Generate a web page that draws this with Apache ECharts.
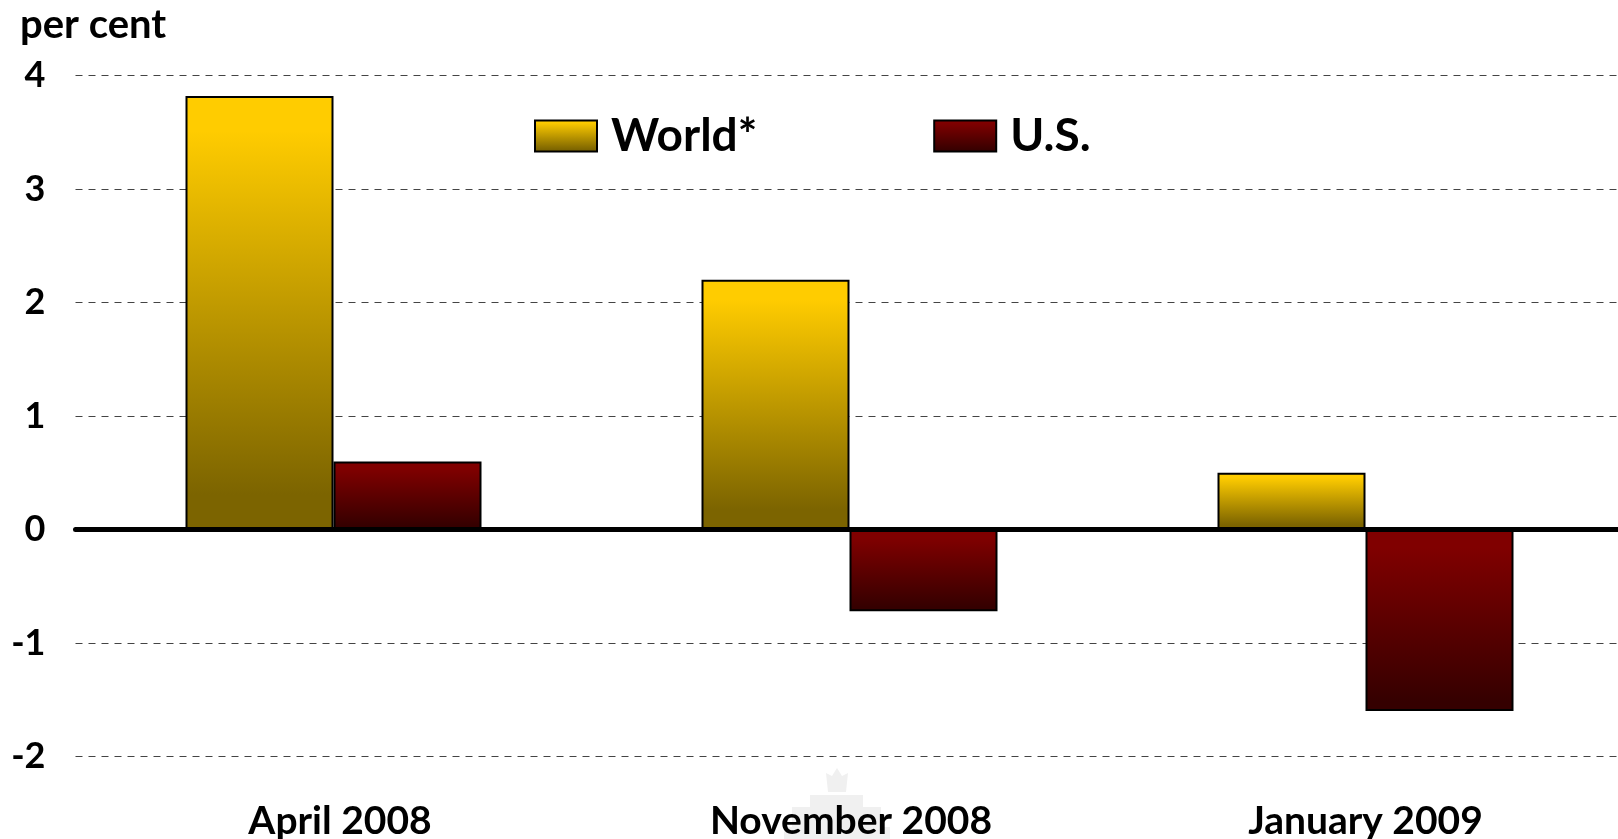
<!DOCTYPE html>
<html><head><meta charset="utf-8">
<style>html,body{margin:0;padding:0;background:#fff}#c{width:1618px;height:839px}</style>
<script src="https://cdn.jsdelivr.net/npm/echarts@6/dist/echarts.min.js"></script>
</head><body><div id="c"></div>
<script>
const categories = ['April 2008', 'November 2008', 'January 2009'];
const worldValues = [3.82, 2.2, 0.5];
const usValues = [0.6, -0.72, -1.6];
const yTicks = { min: -2, max: 4, interval: 1 };
const FONT = 'Lato, sans-serif';
const labelNudge = [13, 3, 0];
const grad = (stops) => new echarts.graphic.LinearGradient(0, 0, 0, 1, stops.map(([offset, color]) => ({offset, color})));
const chart = echarts.init(document.getElementById('c'), null, {renderer: 'canvas'});
const barBase = {type: 'bar', barWidth: 148, barGap: '0%', animation: false};
const hidden = {show: false};
const crest = '#f0f0f0';
chart.setOption({
  animation: false,
  backgroundColor: '#fff',
  grid: {left: 75.5, width: 1548, top: 75.5, bottom: 82.5, outerBoundsMode: 'none'},
  legend: {
    left: 529, top: 108, itemWidth: 62, itemHeight: 31, itemGap: 176, icon: 'rect',
    itemStyle: {borderWidth: 2, borderColor: '#000'},
    textStyle: {fontFamily: FONT, fontWeight: 'bold', fontSize: 46, color: '#000', padding: [4, 0, 0, 9]},
    data: ['World*', 'U.S.']
  },
  graphic: [
    {type: 'text', left: 20, top: 5, style: {text: 'per cent', fontFamily: FONT, fontWeight: 'bold', fontSize: 40, fill: '#000'}},
    {type: 'group', silent: true, z: 0, children: [
      {type: 'polygon', shape: {points: [[826,773],[832,776],[837,768],[842,776],[848,773],[846,792],[828,792]]}, style: {fill: crest}},
      {type: 'rect', shape: {x: 810, y: 795, width: 53, height: 12}, style: {fill: crest}},
      {type: 'rect', shape: {x: 792, y: 807, width: 89, height: 20}, style: {fill: crest}},
      {type: 'rect', shape: {x: 784, y: 827, width: 106, height: 12}, style: {fill: crest}}
    ]}
  ],
  xAxis: [
    {type: 'category',
     data: categories.map((value, i) => ({value, textStyle: {padding: [0, 0, 0, labelNudge[i]]}})),
     position: 'bottom', axisLine: {show: false, onZero: false}, axisTick: hidden,
     axisLabel: {fontFamily: FONT, fontWeight: 'bold', fontSize: 39, color: '#000', margin: 45}},
    {type: 'category', data: categories, z: 10, axisLine: {show: true, onZero: true, lineStyle: {color: '#000', width: 5}}, axisTick: hidden, axisLabel: hidden}
  ],
  yAxis: {type: 'value', min: yTicks.min, max: yTicks.max, interval: yTicks.interval,
    axisLine: hidden, axisTick: hidden,
    axisLabel: {fontFamily: FONT, fontWeight: 'bold', fontSize: 36, color: '#000', margin: 30, padding: [2, 0, 0, 0]},
    splitLine: {show: true, lineStyle: {color: '#444', width: 1, type: [7, 6]}}},
  series: [
    {...barBase, name: 'World*', data: worldValues, itemStyle: {color: grad([[0.08, '#FFCC00'], [0.92, '#7C6400']]), borderColor: '#000', borderWidth: 2}},
    {...barBase, name: 'U.S.', data: usValues, itemStyle: {color: grad([[0.1, '#800000'], [0.95, '#350000']]), borderColor: '#000', borderWidth: 2}}
  ]
});
</script></body></html>
